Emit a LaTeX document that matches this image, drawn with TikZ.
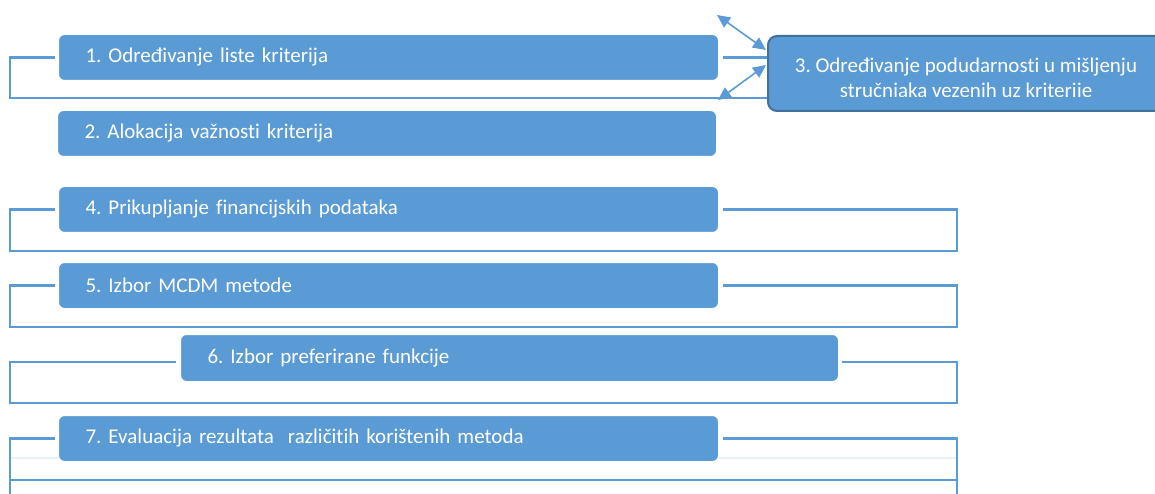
\documentclass[tikz,border=0pt]{standalone}
\usepackage{fontspec}
\setmainfont[Ligatures=NoCommon]{Carlito}
\usetikzlibrary{arrows.meta,calc}
\definecolor{sblue}{HTML}{5B9BD5}
\definecolor{dblue}{HTML}{41719C}
\definecolor{faint}{HTML}{EAF0F8}
\frenchspacing
\begin{document}
\begin{tikzpicture}[x=1pt,y=-1pt,
  stepbox/.style={rectangle, rounded corners=6pt, fill=sblue, draw=white, line width=1pt,
    text=white, font=\fontsize{21}{25}\selectfont, align=left, inner xsep=27pt, inner ysep=0pt,
    minimum height=46pt, anchor=north west},
  frame/.style={draw=sblue, line width=2.4pt},
  dbl/.style={draw=sblue, line width=1.6pt, arrows={Triangle[length=13pt,width=12pt]-Triangle[length=13pt,width=12pt]}}]
\useasboundingbox (0,0) rectangle (1155,494);
\clip (0,0) rectangle (1155,494);
% coordinates of frame corners
\coordinate (l1) at (10,98);
\coordinate (l4) at (10,251); \coordinate (r4) at (957,251);
\coordinate (l5) at (10,327); \coordinate (r5) at (957,327);
\coordinate (l6t) at (10,362); \coordinate (l6b) at (10,403);
\coordinate (r6t) at (957,362); \coordinate (r6b) at (957,403);
\coordinate (l7b) at (10,500); \coordinate (r7b) at (957,500);
\coordinate (l7m) at (10,480); \coordinate (r7m) at (957,480);
\coordinate (l7f) at (10,458); \coordinate (r7f) at (957,458);
\coordinate (a1) at (717,15);
\coordinate (a2) at (718,100);

\draw[faint, line width=2pt] (l7f) -- (r7f);

% boxes
\node[stepbox, text width=606pt] (b1) at (58,34) {1. Određivanje liste kriterija};
\node[stepbox, text width=605pt] (b2) at (57,110) {2. Alokacija važnosti kriterija};
\node[rectangle, rounded corners=9pt, fill=sblue, draw=dblue, line width=2pt,
  minimum width=408pt, minimum height=75pt, anchor=north west, inner sep=0pt] (b3) at (767,35) {};
\node[stepbox, text width=606pt] (b4) at (58,186) {4. Prikupljanje financijskih podataka};
\node[stepbox, text width=606pt] (b5) at (58,262) {5. Izbor MCDM metode};
\node[stepbox, text width=604pt, minimum height=47pt] (b6) at (180,334) {6. Izbor preferirane funkcije};
\node[stepbox, text width=606pt] (b7) at (58,415) {7. Evaluacija rezultata~ različitih korištenih metoda};

\begin{scope}
\clip (767,35) rectangle (1155,97);
\node[text=white, font=\fontsize{21}{25}\selectfont, align=center, inner sep=0pt] (b3t) at (966,80)
  {3. Određivanje podudarnosti u mišljenju\\stručnjaka vezenih uz kriterije};
\end{scope}

% frame 1
\draw[frame] ($(b1.west)+(-3,0)$) -| (l1) -- (l1 -| b3.west);
\draw[frame] ($(b1.east)+(4,0)$) -- (b1.east -| b3.west);
\draw[dbl] (a1) -- ($(b3.north west)+(-1,15)$);
\draw[dbl] (a2) -- ($(b3.north west)+(-1,30)$);

% frame 4
\draw[frame] ($(b4.west)+(-3,0)$) -| (l4) -- (r4) |- ($(b4.east)+(4,0)$);
% frame 5
\draw[frame] ($(b5.west)+(-3,0)$) -| (l5) -- (r5) |- ($(b5.east)+(4,0)$);
% frame 6
\draw[frame] ($(b6.west |- l6t)+(-4,0)$) -- (l6t) -- (l6b) -- (r6b) -- (r6t) -- ($(b6.east |- r6t)+(3,0)$);
% frame 7
\draw[frame] ($(b7.west)+(-3,0)$) -| (l7b);
\draw[frame] ($(b7.east)+(4,0)$) -| (r7b);
\draw[frame] (l7m) -- (r7m);
\end{tikzpicture}
\end{document}
